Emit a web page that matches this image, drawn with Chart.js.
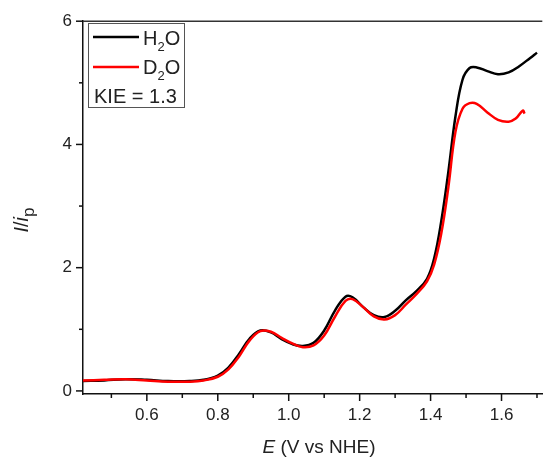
<!DOCTYPE html>
<html>
<head>
<meta charset="utf-8">
<script src="https://cdn.jsdelivr.net/npm/chart.js@4"></script>
<style>
  body { margin: 0; background: #fff; }
  #wrap { width: 548px; height: 457px; }
</style>
</head>
<body>
<div id="wrap"><canvas id="kieChart" width="548" height="457"></canvas></div>
<script>
// potentials (V vs NHE) and normalised currents
const eH2O = [0.42, 0.48, 0.54, 0.60, 0.66, 0.72, 0.76, 0.80, 0.83, 0.86, 0.89, 0.92, 0.95, 0.98, 1.01, 1.04, 1.07, 1.10, 1.13, 1.16, 1.18, 1.21, 1.24, 1.27, 1.30, 1.33, 1.36, 1.39, 1.41, 1.43, 1.45, 1.47, 1.49, 1.51, 1.53, 1.56, 1.59, 1.62, 1.65, 1.68, 1.70];
const iH2O = [0.16, 0.17, 0.19, 0.18, 0.16, 0.16, 0.18, 0.25, 0.38, 0.60, 0.85, 0.98, 0.95, 0.84, 0.76, 0.73, 0.78, 0.98, 1.30, 1.53, 1.52, 1.36, 1.23, 1.20, 1.30, 1.47, 1.62, 1.82, 2.15, 2.75, 3.55, 4.45, 5.05, 5.24, 5.25, 5.19, 5.14, 5.17, 5.27, 5.40, 5.49];

const eD2O = [0.42, 0.48, 0.54, 0.60, 0.66, 0.72, 0.76, 0.80, 0.83, 0.86, 0.89, 0.92, 0.95, 0.98, 1.01, 1.04, 1.07, 1.10, 1.13, 1.16, 1.18, 1.21, 1.24, 1.27, 1.30, 1.33, 1.36, 1.39, 1.41, 1.43, 1.45, 1.47, 1.49, 1.51, 1.53, 1.56, 1.59, 1.62, 1.64, 1.66, 1.665];
const iD2O = [0.17, 0.18, 0.19, 0.17, 0.15, 0.15, 0.17, 0.23, 0.35, 0.56, 0.82, 0.97, 0.96, 0.86, 0.77, 0.71, 0.74, 0.90, 1.20, 1.46, 1.49, 1.36, 1.21, 1.16, 1.23, 1.40, 1.57, 1.78, 2.05, 2.55, 3.30, 4.20, 4.58, 4.67, 4.66, 4.52, 4.40, 4.37, 4.42, 4.55, 4.50];

const xMajor = [0.6, 0.8, 1.0, 1.2, 1.4, 1.6];
const yMajor = [0, 2, 4, 6];
const kieText = 'KIE = 1.3';

const FONT = '"Liberation Sans", Arial, sans-serif';

function toPoints(xs, ys) {
  return xs.map((x, i) => ({ x, y: ys[i] }));
}

function isMajor(list, v) {
  return list.some(m => Math.abs(m - v) < 1e-6);
}

// text with a subscript piece, e.g. H + 2 + O
function drawParts(ctx, parts, x, y, size, subScale = 0.65, subShift = 0.3) {
  parts.forEach(p => {
    const s = p.sub ? size * subScale : size;
    ctx.font = `${p.italic ? 'italic ' : ''}${s}px ${FONT}`;
    ctx.fillText(p.t, x, y + (p.sub ? size * subShift : 0));
    x += ctx.measureText(p.t).width;
  });
  return x;
}

function partsWidth(ctx, parts, size, subScale = 0.65) {
  let w = 0;
  parts.forEach(p => {
    const s = p.sub ? size * subScale : size;
    ctx.font = `${p.italic ? 'italic ' : ''}${s}px ${FONT}`;
    w += ctx.measureText(p.t).width;
  });
  return w;
}

const decorPlugin = {
  id: 'decor',
  afterDraw(chart) {
    const ctx = chart.ctx;
    const area = chart.chartArea;
    const xs = chart.scales.x;
    const ys = chart.scales.y;
    ctx.save();

    // top frame line
    ctx.strokeStyle = '#333';
    ctx.lineWidth = 1.5;
    ctx.beginPath();
    ctx.moveTo(area.left, area.top);
    ctx.lineTo(area.right, area.top);
    ctx.stroke();

    // outward ticks, shorter for minor ones
    ctx.strokeStyle = '#111';
    ctx.lineWidth = 1.5;
    xs.ticks.forEach(t => {
      const px = xs.getPixelForValue(t.value);
      const len = isMajor(xMajor, t.value) ? 7 : 4;
      ctx.beginPath();
      ctx.moveTo(px, area.bottom);
      ctx.lineTo(px, area.bottom + len);
      ctx.stroke();
    });
    ys.ticks.forEach(t => {
      const py = ys.getPixelForValue(t.value);
      const len = isMajor(yMajor, t.value) ? 7 : 4;
      ctx.beginPath();
      ctx.moveTo(area.left, py);
      ctx.lineTo(area.left - len, py);
      ctx.stroke();
    });

    // axis titles
    ctx.fillStyle = '#222';
    ctx.textBaseline = 'alphabetic';
    ctx.textAlign = 'left';
    const xt = [{ t: 'E', italic: true }, { t: ' (V vs NHE)' }];
    const xw = partsWidth(ctx, xt, 19);
    drawParts(ctx, xt, 319 - xw / 2, 453, 19);

    const yt = [{ t: 'I', italic: true }, { t: '/' }, { t: 'i', italic: true }, { t: 'p', sub: true }];
    ctx.translate(28, 220);
    ctx.rotate(-Math.PI / 2);
    const yw = partsWidth(ctx, yt, 20, 0.85);
    drawParts(ctx, yt, -yw / 2, 0, 20, 0.85, 0.3);
    ctx.setTransform(1, 0, 0, 1, 0, 0);

    // legend box
    ctx.strokeStyle = '#555';
    ctx.lineWidth = 1;
    ctx.fillStyle = '#fff';
    ctx.fillRect(88.5, 23.5, 96, 84);
    ctx.strokeRect(88.5, 23.5, 96, 84);

    const rows = [
      { color: '#000', y: 37, base: 45, parts: [{ t: 'H' }, { t: '2', sub: true }, { t: 'O' }] },
      { color: '#f00', y: 67, base: 74, parts: [{ t: 'D' }, { t: '2', sub: true }, { t: 'O' }] }
    ];
    rows.forEach(r => {
      ctx.strokeStyle = r.color;
      ctx.lineWidth = 2.5;
      ctx.beginPath();
      ctx.moveTo(93, r.y);
      ctx.lineTo(139, r.y);
      ctx.stroke();
      ctx.fillStyle = '#222';
      drawParts(ctx, r.parts, 143, r.base, 20);
    });
    ctx.font = `20px ${FONT}`;
    ctx.fillText(kieText, 94, 103);

    ctx.restore();
  }
};

const ctx = document.getElementById('kieChart').getContext('2d');
new Chart(ctx, {
  type: 'line',
  data: {
    datasets: [
      {
        label: 'H2O',
        data: toPoints(eH2O, iH2O),
        borderColor: '#000',
        borderWidth: 2.5,
        pointRadius: 0,
        tension: 0.4,
        order: 2
      },
      {
        label: 'D2O',
        data: toPoints(eD2O, iD2O),
        borderColor: '#f00',
        borderWidth: 2.5,
        pointRadius: 0,
        tension: 0.4,
        order: 1
      }
    ]
  },
  options: {
    responsive: false,
    animation: false,
    devicePixelRatio: 1,
    layout: { autoPadding: false, padding: { top: 19, right: 1, left: 0, bottom: 0 } },
    plugins: { legend: { display: false }, tooltip: { enabled: false } },
    scales: {
      x: {
        type: 'linear',
        min: 0.42,
        max: 1.715,
        afterFit: s => { s.height = 63; },
        grid: { display: false, drawTicks: false },
        border: { display: true, color: '#111', width: 1.5 },
        ticks: {
          stepSize: 0.1,
          includeBounds: false,
          padding: 11,
          maxRotation: 0,
          autoSkip: false,
          color: '#222',
          font: { family: FONT, size: 17 },
          callback: v => isMajor(xMajor, v) ? v.toFixed(1) : ''
        }
      },
      y: {
        type: 'linear',
        min: -0.05,
        max: 6,
        afterFit: s => { s.width = 83; },
        grid: { display: false, drawTicks: false },
        border: { display: true, color: '#111', width: 1.5 },
        ticks: {
          stepSize: 1,
          includeBounds: false,
          padding: 11,
          autoSkip: false,
          color: '#222',
          font: { family: FONT, size: 17 },
          callback: v => isMajor(yMajor, v) ? String(Math.round(v)) : ''
        }
      }
    }
  },
  plugins: [decorPlugin]
});
</script>
</body>
</html>
